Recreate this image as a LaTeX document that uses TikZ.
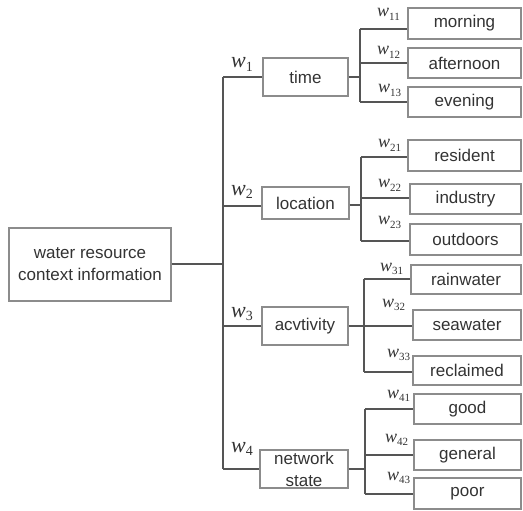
\documentclass[tikz,border=0pt]{standalone}
\usepackage{fontspec}
\setmainfont{Liberation Sans}
\newfontfamily\wfont{Liberation Serif}
\definecolor{boxgray}{HTML}{8C8C8C}
\definecolor{linegray}{HTML}{555555}
\definecolor{txt}{HTML}{333333}
% weight label: italic w with an upright subscript
\newcommand\wtag[3]{{\wfont\itshape\fontsize{#1}{#1}\selectfont w}\raisebox{-3.5pt}{\wfont\fontsize{#2}{#2}\selectfont #3}}
\begin{document}
\begin{tikzpicture}[x=1pt,y=-1pt,
  box/.style={draw=boxgray, line width=1.2pt, text=txt, inner sep=0pt,
    font=\fontsize{17}{22}\selectfont, align=center},
  conn/.style={draw=linegray, line width=1.2pt},
  wl/.style={anchor=base west, inner sep=0pt, text=txt}]
\useasboundingbox (0,0) rectangle (523,511);

% root
\node[box, minimum width=162pt, minimum height=73pt] (root) at (90,264.5)
  {water resource\\context information};

% first level
\node[box, minimum width=85pt, minimum height=38pt] (time) at (305.5,77) {time};
\node[box, minimum width=87pt, minimum height=32pt] (location) at (305.5,203) {location};
\node[box, minimum width=86pt, minimum height=38pt] (activity) at (305,326) {acvtivity};
\node[box, minimum width=88pt, minimum height=38pt] (network) at (304,469) {network\\state};

% second level
\node[box, minimum width=113pt, minimum height=31pt] (morning) at (464.5,23.5) {morning};
\node[box, minimum width=113pt, minimum height=30pt] (afternoon) at (464.5,63) {afternoon};
\node[box, minimum width=113pt, minimum height=30pt] (evening) at (464.5,102) {evening};
\node[box, minimum width=113pt, minimum height=31pt] (resident) at (464.5,155.5) {resident};
\node[box, minimum width=111pt, minimum height=30pt] (industry) at (465.5,199) {industry};
\node[box, minimum width=111pt, minimum height=31pt] (outdoors) at (465.5,239.5) {outdoors};
\node[box, minimum width=110pt, minimum height=29pt] (rainwater) at (466,279.5) {rainwater};
\node[box, minimum width=108pt, minimum height=30pt] (seawater) at (467,325) {seawater};
\node[box, minimum width=108pt, minimum height=29pt] (reclaimed) at (467,370.5) {reclaimed};
\node[box, minimum width=107pt, minimum height=30pt] (good) at (467.5,409) {good};
\node[box, minimum width=107pt, minimum height=30pt] (general) at (467.5,455) {general};
\node[box, minimum width=107pt, minimum height=31pt] (poor) at (467.5,493.5) {poor};

% trunk from the root
\coordinate (t0) at (223,264);
\coordinate (t1) at (223,77);
\coordinate (t2) at (223,206);
\coordinate (t3) at (223,326);
\coordinate (t4) at (223,469);
\draw[conn] (root.east |- t0) -- (t0);
\draw[conn] (t1) -- (t4);
\draw[conn] (t1) -- (t1 -| time.west);
\draw[conn] (t2) -- (t2 -| location.west);
\draw[conn] (t3) -- (t3 -| activity.west);
\draw[conn] (t4) -- (t4 -| network.west);

% bus: time
\coordinate (j1) at (360,77);
\coordinate (b11) at (360,29);
\coordinate (b12) at (360,63);
\coordinate (b13) at (360,102);
\draw[conn] (j1 -| time.east) -- (j1);
\draw[conn] (b11) -- (b13);
\draw[conn] (b11) -- (b11 -| morning.west);
\draw[conn] (b12) -- (b12 -| afternoon.west);
\draw[conn] (b13) -- (b13 -| evening.west);

% bus: location
\coordinate (j2) at (361,205);
\coordinate (b21) at (361,157);
\coordinate (b22) at (361,198);
\coordinate (b23) at (361,241);
\draw[conn] (j2 -| location.east) -- (j2);
\draw[conn] (b21) -- (b23);
\draw[conn] (b21) -- (b21 -| resident.west);
\draw[conn] (b22) -- (b22 -| industry.west);
\draw[conn] (b23) -- (b23 -| outdoors.west);

% bus: activity
\coordinate (j3) at (364,326);
\coordinate (b31) at (364,279);
\coordinate (b32) at (364,326);
\coordinate (b33) at (364,372);
\draw[conn] (j3 -| activity.east) -- (j3);
\draw[conn] (b31) -- (b33);
\draw[conn] (b31) -- (b31 -| rainwater.west);
\draw[conn] (b32) -- (b32 -| seawater.west);
\draw[conn] (b33) -- (b33 -| reclaimed.west);

% bus: network state
\coordinate (j4) at (365,469);
\coordinate (b41) at (365,409);
\coordinate (b42) at (365,455);
\coordinate (b43) at (365,494);
\draw[conn] (j4 -| network.east) -- (j4);
\draw[conn] (b41) -- (b43);
\draw[conn] (b41) -- (b41 -| good.west);
\draw[conn] (b42) -- (b42 -| general.west);
\draw[conn] (b43) -- (b43 -| poor.west);

% first-level weights
\node[wl] (w1) at (231,68) {\wtag{22}{14}{1}};
\node[wl] (w2) at (231,195) {\wtag{22}{14}{2}};
\node[wl] (w3) at (231,317) {\wtag{22}{14}{3}};
\node[wl] (w4) at (231,452) {\wtag{22}{14}{4}};

% second-level weights
\node[wl] (w11) at (377,17) {\wtag{18}{11}{11}};
\node[wl] (w12) at (377,55) {\wtag{18}{11}{12}};
\node[wl] (w13) at (378,93) {\wtag{18}{11}{13}};
\node[wl] (w21) at (378,148) {\wtag{18}{11}{21}};
\node[wl] (w22) at (378,188) {\wtag{18}{11}{22}};
\node[wl] (w23) at (378,225) {\wtag{18}{11}{23}};
\node[wl] (w31) at (380,271) {\wtag{18}{11}{31}};
\node[wl] (w32) at (382,307) {\wtag{18}{11}{32}};
\node[wl] (w33) at (387,357) {\wtag{18}{11}{33}};
\node[wl] (w41) at (387,398) {\wtag{18}{11}{41}};
\node[wl] (w42) at (385,442) {\wtag{18}{11}{42}};
\node[wl] (w43) at (387,480) {\wtag{18}{11}{43}};
\end{tikzpicture}
\end{document}
